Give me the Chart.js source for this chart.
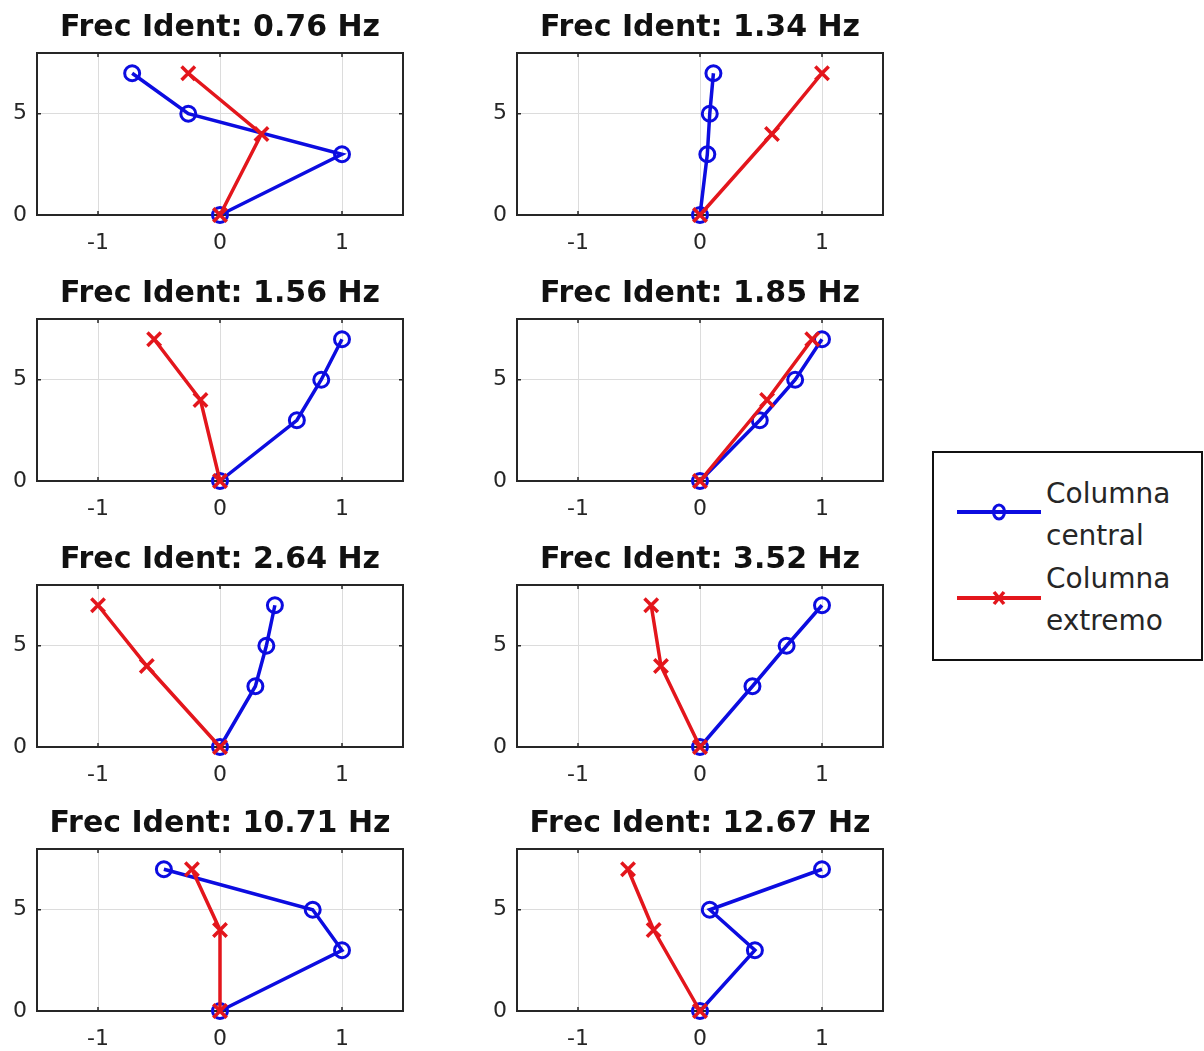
<!DOCTYPE html>
<html>
<head>
<meta charset="utf-8">
<title>Formas modales</title>
<script src="https://cdn.jsdelivr.net/npm/chart.js@4.4.1/dist/chart.umd.min.js"></script>
<style>
  html, body { margin: 0; padding: 0; background: #fff; }
  #fig { position: relative; width: 1204px; height: 1051px; overflow: hidden; background: #fff; }
  .panel { position: absolute; }
  #legend {
    position: absolute; left: 932px; top: 451px; width: 267px; height: 206px;
    border: 2px solid #111; background: #fff;
    font-family: 'DejaVu Sans', sans-serif; font-size: 28px; color: #262626;
  }
  #legend .txt { position: absolute; left: 112px; line-height: 42px; white-space: nowrap; }
  #legend svg { position: absolute; left: 0; top: 0; }
</style>
</head>
<body>
<div id="fig">
  <div id="legend"></div>
</div>
<script>
// Identified frequencies (Hz), one panel per mode
const modeFreqs = ['0.76', '1.34', '1.56', '1.85', '2.64', '3.52', '10.71', '12.67'];

// Heights of the measured levels on each column
const centralLevels = [0, 3, 5, 7];
const extremoLevels = [0, 4, 7];

// Normalised modal displacement of the central column, per mode
const centralDisp = [
  [0, 1.00, -0.26, -0.72],
  [0, 0.06, 0.08, 0.11],
  [0, 0.63, 0.83, 1.00],
  [0, 0.49, 0.78, 1.00],
  [0, 0.29, 0.38, 0.45],
  [0, 0.43, 0.71, 1.00],
  [0, 1.00, 0.76, -0.46],
  [0, 0.45, 0.08, 1.00]
];

// Normalised modal displacement of the end column, per mode
const extremoDisp = [
  [0, 0.34, -0.26],
  [0, 0.59, 1.00],
  [0, -0.16, -0.54],
  [0, 0.55, 0.92],
  [0, -0.60, -1.00],
  [0, -0.32, -0.40],
  [0, 0.00, -0.23],
  [0, -0.38, -0.59]
];

// Axis ticks
const xTicks = [-1, 0, 1];
const yTicks = [0, 5];

const seriesNames = ['Columna central', 'Columna extremo'];
const legendLines = [['Columna', 'central'], ['Columna', 'extremo']];

const BLUE = '#0c0ce0';
const RED = '#e3161c';
const AXIS = '#262626';
const GRID = '#dcdcdc';
const FONT = "'DejaVu Sans', sans-serif";

// Panel placement (2 columns x 4 rows)
const colLeft = [0, 480];
const rowTop = [0, 266, 532, 796];
const PANEL_W = 420, PANEL_H = 266;

// Closed axes box with inward tick marks, drawn under the data
const axesBox = {
  id: 'axesBox',
  beforeDatasetsDraw(chart) {
    const { ctx, chartArea: a, scales } = chart;
    ctx.save();
    ctx.strokeStyle = AXIS;
    ctx.lineWidth = 1.5;
    ctx.beginPath();
    for (const v of xTicks) {
      const px = scales.x.getPixelForValue(v);
      ctx.moveTo(px, a.bottom); ctx.lineTo(px, a.bottom - 4);
      ctx.moveTo(px, a.top); ctx.lineTo(px, a.top + 4);
    }
    for (const v of yTicks) {
      const py = scales.y.getPixelForValue(v);
      ctx.moveTo(a.left, py); ctx.lineTo(a.left + 4, py);
      ctx.moveTo(a.right, py); ctx.lineTo(a.right - 4, py);
    }
    ctx.stroke();
    ctx.lineWidth = 2;
    ctx.strokeRect(a.left, a.top, a.right - a.left, a.bottom - a.top);
    ctx.restore();
  }
};

function panelConfig(i) {
  return {
    type: 'line',
    data: {
      datasets: [
        {
          label: seriesNames[0],
          data: centralLevels.map((h, k) => ({ x: centralDisp[i][k], y: h })),
          borderColor: BLUE, borderWidth: 3.5, tension: 0,
          pointStyle: 'circle', pointRadius: 7.5, pointBorderWidth: 3,
          pointBorderColor: BLUE, pointBackgroundColor: 'rgba(0,0,0,0)',
          clip: false, order: 1
        },
        {
          label: seriesNames[1],
          data: extremoLevels.map((h, k) => ({ x: extremoDisp[i][k], y: h })),
          borderColor: RED, borderWidth: 3.5, tension: 0,
          pointStyle: 'crossRot', pointRadius: 9.5, pointBorderWidth: 3.5,
          pointBorderColor: RED, pointBackgroundColor: RED,
          clip: false, order: 0
        }
      ]
    },
    options: {
      responsive: false,
      animation: false,
      events: [],
      layout: { padding: { left: 0, right: 17, top: 0, bottom: 0 } },
      plugins: {
        legend: { display: false },
        tooltip: { enabled: false },
        title: {
          display: true,
          text: 'Frec Ident: ' + modeFreqs[i] + ' Hz',
          fullSize: false,
          color: '#111',
          font: { family: FONT, size: 30, weight: 'bold', lineHeight: 1.2 },
          padding: { top: 10, bottom: 7 }
        }
      },
      scales: {
        x: {
          type: 'linear', min: -1.5, max: 1.5,
          afterBuildTicks: s => { s.ticks = xTicks.map(v => ({ value: v })); },
          afterFit: s => { s.height = 51; },
          grid: { color: GRID, lineWidth: 1, drawTicks: false },
          border: { display: false },
          ticks: { font: { family: FONT, size: 22 }, color: AXIS, padding: 15, maxRotation: 0, autoSkip: false }
        },
        y: {
          type: 'linear', min: 0, max: 8,
          afterBuildTicks: s => { s.ticks = yTicks.map(v => ({ value: v })); },
          afterFit: s => { s.width = 37; },
          grid: { color: GRID, lineWidth: 1, drawTicks: false },
          border: { display: false },
          ticks: { font: { family: FONT, size: 22 }, color: AXIS, padding: 10, autoSkip: false }
        }
      }
    },
    plugins: [axesBox]
  };
}

const fig = document.getElementById('fig');
modeFreqs.forEach((f, i) => {
  const c = document.createElement('canvas');
  c.className = 'panel';
  c.width = PANEL_W; c.height = PANEL_H;
  c.style.left = colLeft[i % 2] + 'px';
  c.style.top = rowTop[Math.floor(i / 2)] + 'px';
  fig.appendChild(c);
  new Chart(c, panelConfig(i));
});

// Legend: line samples with markers and two-line labels
const legend = document.getElementById('legend');
const svgNS = 'http://www.w3.org/2000/svg';
const svg = document.createElementNS(svgNS, 'svg');
svg.setAttribute('width', '267'); svg.setAttribute('height', '206');
const sampleY = [59, 145];
const textTop = [20, 105];
const sampleColors = [BLUE, RED];
sampleY.forEach((y, k) => {
  const ln = document.createElementNS(svgNS, 'line');
  ln.setAttribute('x1', 23); ln.setAttribute('x2', 107);
  ln.setAttribute('y1', y); ln.setAttribute('y2', y);
  ln.setAttribute('stroke', sampleColors[k]); ln.setAttribute('stroke-width', 4);
  svg.appendChild(ln);
  if (k === 0) {
    const m = document.createElementNS(svgNS, 'ellipse');
    m.setAttribute('cx', 65); m.setAttribute('cy', y);
    m.setAttribute('rx', 5.5); m.setAttribute('ry', 7);
    m.setAttribute('fill', 'none'); m.setAttribute('stroke', BLUE); m.setAttribute('stroke-width', 3);
    svg.appendChild(m);
  } else {
    const p = document.createElementNS(svgNS, 'path');
    p.setAttribute('d', `M60 ${y - 6} L70 ${y + 6} M70 ${y - 6} L60 ${y + 6}`);
    p.setAttribute('stroke', RED); p.setAttribute('stroke-width', 3.5);
    svg.appendChild(p);
  }
  const t = document.createElement('div');
  t.className = 'txt';
  t.style.top = textTop[k] + 'px';
  t.innerHTML = legendLines[k].join('<br>');
  legend.appendChild(t);
});
legend.appendChild(svg);
</script>
</body>
</html>
